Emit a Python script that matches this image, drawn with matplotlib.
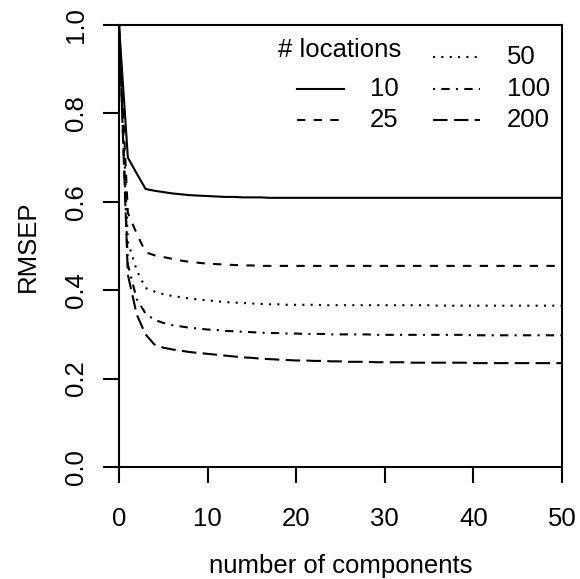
import numpy as np
import matplotlib.pyplot as plt

plt.rcParams['font.family'] = ['Liberation Sans', 'DejaVu Sans']
plt.rcParams['font.size'] = 18.5

# number of components on the x axis
components = np.arange(0, 51)

# RMSEP, one series per number of locations
rmsep_10 = [1.000, 0.700, 0.664, 0.629, 0.625, 0.622, 0.619, 0.617, 0.615, 0.614,
            0.613, 0.612, 0.611, 0.611, 0.610, 0.610, 0.610, 0.609, 0.609, 0.609,
            0.609, 0.609, 0.609, 0.609, 0.609, 0.609, 0.609, 0.609, 0.609, 0.609,
            0.609, 0.609, 0.609, 0.609, 0.609, 0.609, 0.609, 0.609, 0.609, 0.609,
            0.609, 0.609, 0.609, 0.609, 0.609, 0.609, 0.609, 0.609, 0.609, 0.609,
            0.609]
rmsep_25 = [1.000, 0.575, 0.528, 0.486, 0.479, 0.475, 0.471, 0.467, 0.464, 0.462,
            0.460, 0.459, 0.458, 0.457, 0.456, 0.456, 0.455, 0.455, 0.455, 0.455,
            0.455, 0.455, 0.455, 0.455, 0.455, 0.455, 0.455, 0.455, 0.455, 0.455,
            0.455, 0.455, 0.455, 0.455, 0.455, 0.455, 0.455, 0.455, 0.455, 0.455,
            0.455, 0.455, 0.455, 0.455, 0.455, 0.455, 0.455, 0.455, 0.455, 0.455,
            0.455]
rmsep_50 = [1.000, 0.510, 0.445, 0.405, 0.397, 0.391, 0.387, 0.384, 0.381, 0.379,
            0.377, 0.375, 0.373, 0.372, 0.371, 0.370, 0.369, 0.368, 0.368, 0.367,
            0.367, 0.367, 0.367, 0.366, 0.366, 0.366, 0.366, 0.366, 0.366, 0.366,
            0.366, 0.366, 0.366, 0.366, 0.366, 0.366, 0.365, 0.365, 0.365, 0.365,
            0.365, 0.365, 0.365, 0.365, 0.365, 0.365, 0.365, 0.365, 0.365, 0.365,
            0.365]
rmsep_100 = [1.000, 0.458, 0.380, 0.347, 0.333, 0.326, 0.321, 0.318, 0.315, 0.313,
             0.311, 0.310, 0.308, 0.307, 0.306, 0.305, 0.304, 0.303, 0.303, 0.302,
             0.302, 0.301, 0.301, 0.301, 0.300, 0.300, 0.300, 0.300, 0.300, 0.299,
             0.299, 0.299, 0.299, 0.299, 0.299, 0.299, 0.299, 0.299, 0.299, 0.299,
             0.298, 0.298, 0.298, 0.298, 0.298, 0.298, 0.298, 0.298, 0.298, 0.298,
             0.298]
rmsep_200 = [1.000, 0.435, 0.345, 0.300, 0.277, 0.270, 0.266, 0.263, 0.260, 0.258,
             0.256, 0.254, 0.252, 0.250, 0.248, 0.247, 0.245, 0.244, 0.243, 0.242,
             0.241, 0.241, 0.240, 0.240, 0.239, 0.239, 0.238, 0.238, 0.238, 0.237,
             0.237, 0.237, 0.237, 0.236, 0.236, 0.236, 0.236, 0.236, 0.236, 0.236,
             0.235, 0.235, 0.235, 0.235, 0.235, 0.235, 0.235, 0.235, 0.235, 0.235,
             0.235]

locations = ['10', '25', '50', '100', '200']
series = [rmsep_10, rmsep_25, rmsep_50, rmsep_100, rmsep_200]
# R lty 1..5
linestyles = ['-', (0, (4, 4)), (0, (1, 3)), (0, (1, 3, 4, 3)), (0, (7, 3))]

fig = plt.figure(figsize=(5.8, 5.79), dpi=100)
ax = fig.add_axes([119 / 580, 1 - 467 / 579, 443 / 580, 442 / 579])

for vals, ls in zip(series, linestyles):
    ax.plot(components, vals, color='black', lw=1.5, linestyle=ls,
            dash_capstyle='butt', solid_capstyle='butt')

ax.set_xlim(0, 50)
ax.set_ylim(0, 1)
ax.set_xticks(np.arange(0, 51, 10))
ax.set_yticks(np.arange(0, 1.01, 0.2))
ax.set_yticklabels(['{:.1f}'.format(v) for v in np.arange(0, 1.01, 0.2)],
                   rotation=90, va='center')
for sp in ax.spines.values():
    sp.set_linewidth(1.5)
ax.tick_params(axis='both', length=11.5, width=1.5, direction='out')
ax.tick_params(axis='x', pad=17)
ax.tick_params(axis='y', pad=11)
ax.set_xlabel('number of components', labelpad=17)
ax.set_ylabel('RMSEP', labelpad=17)

# legend, laid out like R's legend(ncol = 2)
def fx(px):
    return (px - 119) / 443

def fy(py):
    return (467 - py) / 442

ax.text(fx(278), fy(57), '# locations', transform=ax.transAxes,
        ha='left', va='baseline')
row_y = [89, 120, 57, 89, 120]
line_x = [(297, 344), (297, 344), (433, 480), (433, 480), (433, 480)]
text_x = [370, 370, 507, 507, 507]
for lab, ls, ry, lx, tx in zip(locations, linestyles, row_y, line_x, text_x):
    ax.plot([fx(lx[0]), fx(lx[1])], [fy(ry), fy(ry)], transform=ax.transAxes,
            color='black', lw=1.5, linestyle=ls, dash_capstyle='butt',
            clip_on=False)
    ax.text(fx(tx), fy(ry), lab, transform=ax.transAxes,
            ha='left', va='center')

fig.savefig('out.png', dpi=100)
